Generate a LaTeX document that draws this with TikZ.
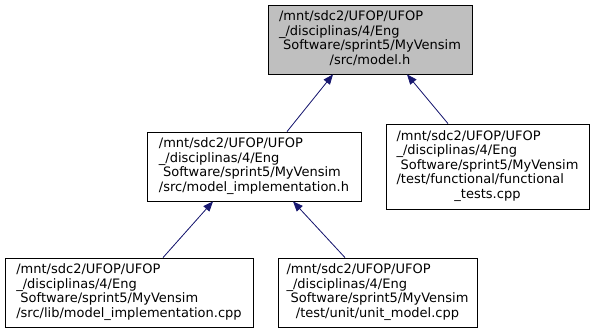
\documentclass[tikz,border=0pt]{standalone}
\usepackage{fontspec}
\setmainfont{DejaVu Sans}
\usetikzlibrary{arrows.meta, positioning}
\definecolor{edgeBlue}{HTML}{191970}
\definecolor{rootGray}{HTML}{BFBFBF}

% path label: left-justified lines, last line centred
\newcommand{\filelabel}[2]{\begin{tabular}{@{}l@{}}#1\\\multicolumn{1}{@{}c@{}}{#2}\end{tabular}}
\newcommand{\repo}{/mnt/sdc2/UFOP/UFOP\\\_/disciplinas/4/Eng\\\ Software/sprint5/MyVensim}

\begin{document}
\begin{tikzpicture}[
    x=1pt, y=-1pt,
    file/.style={rectangle, draw, line width=0.8pt, inner sep=0pt, minimum height=69pt, font=\fontsize{13}{14.5}\selectfont},
    edge/.style={-{Triangle[length=10pt, width=8pt]}, draw=edgeBlue, fill=edgeBlue, line width=0.8pt},
]
    \useasboundingbox (0,0) rectangle (595,333);

    % Header and its includers
    \node[file, fill=rootGray, minimum width=204pt] (model) at (370,39.5) {\filelabel{\repo}{/src/model.h}};
    \node[file, minimum width=214pt] (impl) at (254,166.5) {\filelabel{\repo}{/src/model\_implementation.h}};
    \node[file, minimum width=203pt, minimum height=85pt] (functest) at (487.5,166.5) {\filelabel{\repo\\/test/functional/functional}{\_tests.cpp}};

    % Bottom row
    \node[file, minimum width=248pt] (implcpp) at (129,292.5) {\filelabel{\repo}{/src/lib/model\_implementation.cpp}};
    \node[file, minimum width=199pt] (unittest) at (377.5,292.5) {\filelabel{\repo}{/test/unit/unit\_model.cpp}};

    % Include edges
    \draw[edge] ([xshift=33pt]impl.north) -- ([xshift=-37pt]model.south);
    \draw[edge] ([xshift=-39.5pt]functest.north) -- ([xshift=37pt]model.south);
    \draw[edge] ([xshift=34pt]implcpp.north) -- ([xshift=-41pt]impl.south);
    \draw[edge] ([xshift=-32.5pt]unittest.north) -- ([xshift=39pt]impl.south);
\end{tikzpicture}
\end{document}
